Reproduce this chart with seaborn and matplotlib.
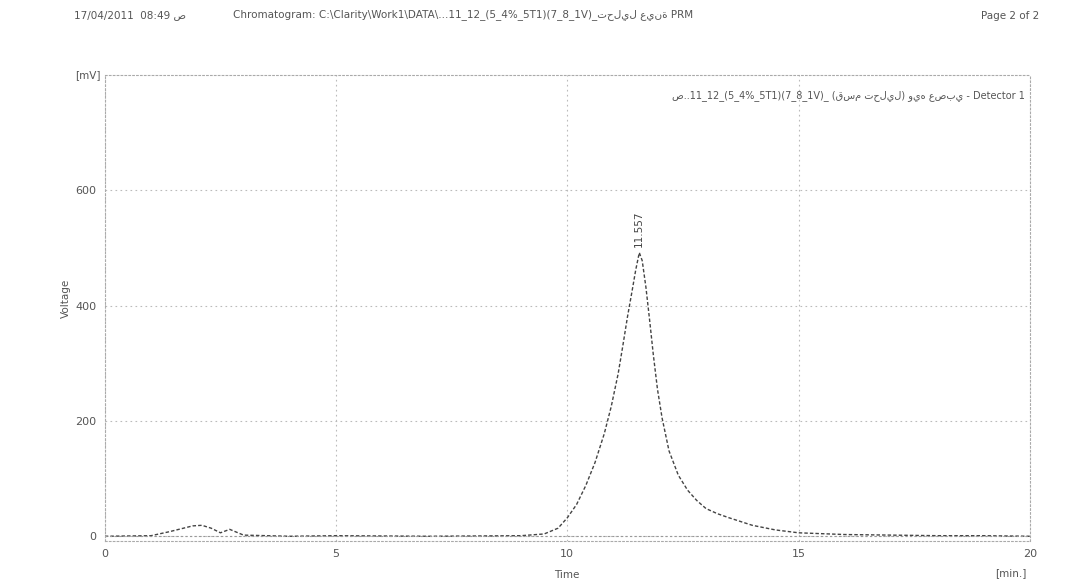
import matplotlib
matplotlib.use("Agg")
import matplotlib.pyplot as plt
import seaborn as sns
import pandas as pd

# ---- data ----
time_min = [0.0, 1.0, 1.4, 1.7, 1.9, 2.1, 2.3, 2.5, 2.7, 3.0, 4.0, 5.0, 7.0, 9.0, 9.5,
            9.8, 10.0, 10.2, 10.4, 10.6, 10.8, 10.95, 11.1, 11.2, 11.3, 11.4, 11.48,
            11.557, 11.62, 11.7, 11.78, 11.86, 11.95, 12.05, 12.2, 12.4, 12.6, 12.8,
            13.0, 13.25, 13.5, 14.0, 14.5, 15.0, 16.0, 17.0, 18.0, 19.0, 20.0]
voltage_mv = [0, 1, 8, 14, 18, 19, 14, 6, 12, 2, 0, 1, 0, 1, 4,
              14, 32, 55, 88, 128, 178, 225, 282, 330, 380, 425, 462,
              492, 478, 432, 375, 315, 255, 205, 148, 106, 80, 62,
              48, 39, 32, 19, 11, 6, 3, 2, 1, 1, 0]
y_ticks = [0, 200, 400, 600]
x_ticks = [0, 5, 10, 15, 20]
peak_time = 11.557
peak_label = "11.557"

df = pd.DataFrame({"Time": time_min, "Voltage": voltage_mv})

sns.set_theme(style="white")
plt.rcParams['font.family'] = ['DejaVu Sans']

fig = plt.figure(figsize=(10.92, 5.86), dpi=100)
ax = fig.add_axes([0.096, 0.077, 0.847, 0.795])

sns.lineplot(data=df, x="Time", y="Voltage", ax=ax, color="#444444",
             linewidth=1.0, linestyle=(0, (2.5, 1.5)), legend=False)

ax.set_xlim(0, 20)
ax.set_ylim(-8, 800)
ax.set_xticks(x_ticks)
ax.set_yticks(y_ticks)
ax.set_xticklabels([str(v) for v in x_ticks], fontsize=8, color="#555555")
ax.set_yticklabels([str(v) for v in y_ticks], fontsize=8, color="#555555")
ax.tick_params(axis="both", length=0, pad=6)
ax.set_xlabel("")
ax.set_ylabel("")

ax.grid(True, color="#bbbbbb", linestyle=(0, (1.5, 3)), linewidth=0.8)
ax.axhline(0, color="#999999", linestyle=(0, (2, 2)), linewidth=0.8)
for s in ax.spines.values():
    s.set_color("#aaaaaa")
    s.set_linestyle((0, (1.5, 2)))
    s.set_linewidth(0.8)

# peak label
peak_val = voltage_mv[time_min.index(peak_time)]
ax.annotate(peak_label, xy=(peak_time, peak_val), xytext=(0, 4),
            textcoords="offset points", rotation=90, ha="center", va="bottom",
            fontsize=7.5, color="#444444")

# legend-like trace title
ax.text(0.995, 0.955, "ص..11_12_(5_4%_5T1)(7_8_1V)_ (قسم تحليل) ويه عصبي - Detector 1",
        transform=ax.transAxes, ha="right", va="center", fontsize=7, color="#555555")

# axis labels
fig.text(0.060, 0.49, "Voltage", rotation=90, ha="center", va="center",
         fontsize=7.5, color="#555555")
fig.text(0.069, 0.872, "[mV]", ha="left", va="center", fontsize=7.5, color="#555555")
fig.text(0.519, 0.018, "Time", ha="center", va="center", fontsize=7.5, color="#555555")
fig.text(0.940, 0.022, "[min.]", ha="right", va="center", fontsize=7.5, color="#555555")

# page header
fig.text(0.068, 0.975, "17/04/2011  08:49 ص", ha="left", va="center",
         fontsize=7.5, color="#555555")
fig.text(0.213, 0.975, "Chromatogram: C:\\Clarity\\Work1\\DATA\\...11_12_(5_4%_5T1)(7_8_1V)_تحليل عينة PRM",
         ha="left", va="center", fontsize=7.5, color="#555555")
fig.text(0.952, 0.972, "Page 2 of 2", ha="right", va="center",
         fontsize=7.5, color="#555555")

fig.savefig("out.png", dpi=100, facecolor="white")
